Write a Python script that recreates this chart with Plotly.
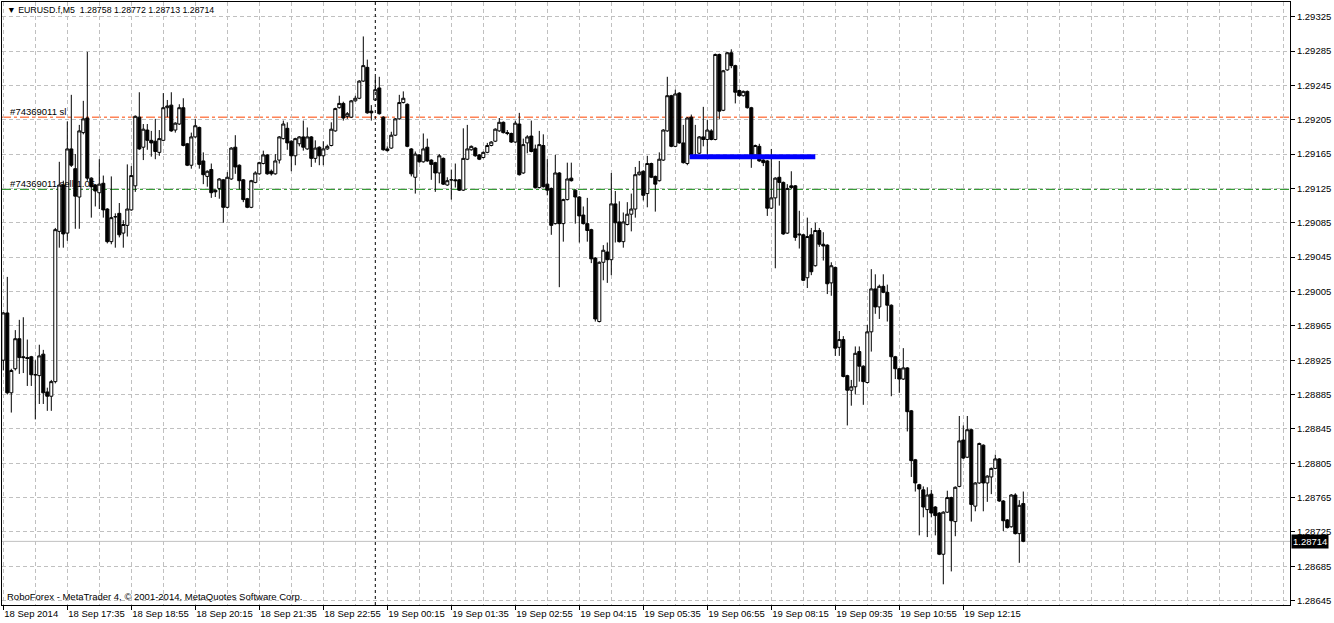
import plotly.graph_objects as go
import pandas as pd

# ---------------- data ----------------
symbol = "EURUSD.f,M5"
start_time = "2014-09-18 16:15"

open_ = [1.28925, 1.28980, 1.28887, 1.28915, 1.28950, 1.28929, 1.28928, 1.28929, 1.28908, 1.28907,
         1.28932, 1.28888, 1.28883, 1.28900, 1.29075, 1.29129, 1.29073, 1.29171, 1.29148, 1.29115,
         1.29190, 1.29207, 1.29137, 1.29129, 1.29120, 1.29131, 1.29101, 1.29063, 1.29092, 1.29096,
         1.29073, 1.29082, 1.29100, 1.29128, 1.29208, 1.29173, 1.29193, 1.29181, 1.29180, 1.29167,
         1.29181, 1.29219, 1.29222, 1.29193, 1.29200, 1.29219, 1.29177, 1.29152, 1.29185, 1.29196,
         1.29157, 1.29139, 1.29147, 1.29123, 1.29125, 1.29135, 1.29103, 1.29136, 1.29173, 1.29152,
         1.29135, 1.29113, 1.29103, 1.29132, 1.29142, 1.29154, 1.29164, 1.29145, 1.29142, 1.29158,
         1.29183, 1.29195, 1.29180, 1.29163, 1.29177, 1.29185, 1.29171, 1.29185, 1.29160, 1.29173,
         1.29163, 1.29171, 1.29175, 1.29192, 1.29219, 1.29224, 1.29209, 1.29208, 1.29227, 1.29230,
         1.29250, 1.29266, 1.29215, 1.29228, 1.29242, 1.29208, 1.29171, 1.29172, 1.29187, 1.29206,
         1.29225, 1.29223, 1.29171, 1.29138, 1.29164, 1.29156, 1.29173, 1.29158, 1.29155, 1.29143,
         1.29160, 1.29129, 1.29135, 1.29135, 1.29135, 1.29123, 1.29159, 1.29170, 1.29172, 1.29164,
         1.29161, 1.29167, 1.29175, 1.29180, 1.29192, 1.29202, 1.29190, 1.29189, 1.29179, 1.29200,
         1.29143, 1.29178, 1.29186, 1.29171, 1.29126, 1.29175, 1.29130, 1.29125, 1.29084, 1.29143,
         1.29084, 1.29112, 1.29137, 1.29123, 1.29115, 1.29094, 1.29084, 1.29077, 1.29044, 1.28970,
         1.29039, 1.29051, 1.29042, 1.29107, 1.29086, 1.29063, 1.29083, 1.29095, 1.29101, 1.29141,
         1.29145, 1.29119, 1.29154, 1.29139, 1.29134, 1.29158, 1.29192, 1.29233, 1.29174, 1.29236,
         1.29178, 1.29154, 1.29208, 1.29164, 1.29166, 1.29185, 1.29182, 1.29192, 1.29182, 1.29281,
         1.29216, 1.29263, 1.29283, 1.29268, 1.29239, 1.29233, 1.29238, 1.29219, 1.29164, 1.29174,
         1.29158, 1.29157, 1.29102, 1.29114, 1.29138, 1.29132, 1.29073, 1.29128, 1.29128, 1.29072,
         1.29071, 1.29021, 1.29071, 1.29035, 1.29076, 1.29060, 1.29059, 1.29015, 1.29033, 1.28940,
         1.28949, 1.28907, 1.28890, 1.28894, 1.28935, 1.28918, 1.28899, 1.28958, 1.29008, 1.28987,
         1.29011, 1.29004, 1.28989, 1.28929, 1.28915, 1.28903, 1.28916, 1.28866, 1.28809, 1.28780,
         1.28774, 1.28751, 1.28769, 1.28754, 1.28747, 1.28699, 1.28748, 1.28765, 1.28737, 1.28778,
         1.28832, 1.28812, 1.28844, 1.28755, 1.28782, 1.28826, 1.28782, 1.28789, 1.28799, 1.28810,
         1.28761, 1.28739, 1.28731, 1.28768, 1.28723, 1.28758]

high = [1.28981, 1.29022, 1.28915, 1.28960, 1.28972, 1.28975, 1.28949, 1.28930, 1.28925, 1.28943,
        1.28937, 1.28893, 1.28902, 1.29079, 1.29156, 1.29134, 1.29203, 1.29234, 1.29165, 1.29199,
        1.29227, 1.29284, 1.29138, 1.29130, 1.29159, 1.29140, 1.29102, 1.29139, 1.29096, 1.29108,
        1.29088, 1.29153, 1.29151, 1.29210, 1.29237, 1.29200, 1.29200, 1.29192, 1.29206, 1.29193,
        1.29236, 1.29228, 1.29237, 1.29202, 1.29223, 1.29230, 1.29178, 1.29190, 1.29206, 1.29197,
        1.29167, 1.29146, 1.29154, 1.29124, 1.29137, 1.29136, 1.29144, 1.29173, 1.29187, 1.29153,
        1.29136, 1.29114, 1.29135, 1.29145, 1.29156, 1.29169, 1.29165, 1.29147, 1.29165, 1.29186,
        1.29204, 1.29202, 1.29181, 1.29184, 1.29186, 1.29204, 1.29196, 1.29186, 1.29181, 1.29174,
        1.29180, 1.29176, 1.29202, 1.29219, 1.29233, 1.29226, 1.29214, 1.29228, 1.29233, 1.29251,
        1.29302, 1.29275, 1.29222, 1.29255, 1.29255, 1.29209, 1.29174, 1.29191, 1.29207, 1.29234,
        1.29238, 1.29224, 1.29172, 1.29168, 1.29165, 1.29189, 1.29183, 1.29159, 1.29156, 1.29165,
        1.29161, 1.29138, 1.29147, 1.29154, 1.29136, 1.29195, 1.29199, 1.29175, 1.29173, 1.29165,
        1.29168, 1.29178, 1.29180, 1.29195, 1.29207, 1.29203, 1.29193, 1.29190, 1.29204, 1.29213,
        1.29183, 1.29187, 1.29204, 1.29176, 1.29192, 1.29188, 1.29159, 1.29126, 1.29164, 1.29144,
        1.29113, 1.29155, 1.29155, 1.29124, 1.29116, 1.29104, 1.29114, 1.29078, 1.29045, 1.29040,
        1.29059, 1.29062, 1.29143, 1.29122, 1.29110, 1.29097, 1.29109, 1.29119, 1.29150, 1.29157,
        1.29146, 1.29163, 1.29155, 1.29140, 1.29167, 1.29194, 1.29255, 1.29234, 1.29240, 1.29237,
        1.29199, 1.29208, 1.29211, 1.29199, 1.29186, 1.29220, 1.29205, 1.29194, 1.29282, 1.29282,
        1.29263, 1.29284, 1.29287, 1.29269, 1.29240, 1.29239, 1.29239, 1.29220, 1.29176, 1.29177,
        1.29159, 1.29158, 1.29171, 1.29138, 1.29157, 1.29133, 1.29130, 1.29145, 1.29129, 1.29099,
        1.29072, 1.29091, 1.29079, 1.29085, 1.29079, 1.29074, 1.29060, 1.29039, 1.29034, 1.28959,
        1.28953, 1.28908, 1.28902, 1.28941, 1.28941, 1.28919, 1.28966, 1.29031, 1.29025, 1.29013,
        1.29025, 1.29013, 1.28990, 1.28930, 1.28916, 1.28939, 1.28917, 1.28867, 1.28810, 1.28781,
        1.28778, 1.28777, 1.28774, 1.28755, 1.28748, 1.28749, 1.28773, 1.28766, 1.28778, 1.28860,
        1.28849, 1.28860, 1.28845, 1.28783, 1.28829, 1.28827, 1.28791, 1.28800, 1.28815, 1.28811,
        1.28762, 1.28740, 1.28769, 1.28770, 1.28762, 1.28772]

low = [1.28913, 1.28885, 1.28864, 1.28913, 1.28909, 1.28910, 1.28895, 1.28895, 1.28856, 1.28874,
       1.28874, 1.28866, 1.28866, 1.28898, 1.29056, 1.29056, 1.29064, 1.29150, 1.29078, 1.29078,
       1.29188, 1.29134, 1.29091, 1.29104, 1.29101, 1.29091, 1.29061, 1.29060, 1.29056, 1.29068,
       1.29056, 1.29069, 1.29099, 1.29121, 1.29170, 1.29158, 1.29170, 1.29162, 1.29159, 1.29163,
       1.29180, 1.29208, 1.29191, 1.29190, 1.29199, 1.29174, 1.29151, 1.29148, 1.29184, 1.29148,
       1.29130, 1.29127, 1.29114, 1.29115, 1.29113, 1.29085, 1.29102, 1.29135, 1.29142, 1.29124,
       1.29109, 1.29102, 1.29102, 1.29131, 1.29141, 1.29153, 1.29141, 1.29140, 1.29141, 1.29154,
       1.29182, 1.29170, 1.29145, 1.29152, 1.29174, 1.29169, 1.29170, 1.29150, 1.29155, 1.29152,
       1.29152, 1.29170, 1.29174, 1.29191, 1.29218, 1.29204, 1.29206, 1.29207, 1.29226, 1.29229,
       1.29249, 1.29212, 1.29204, 1.29227, 1.29211, 1.29169, 1.29168, 1.29171, 1.29186, 1.29205,
       1.29224, 1.29173, 1.29139, 1.29119, 1.29155, 1.29155, 1.29156, 1.29135, 1.29121, 1.29131,
       1.29129, 1.29128, 1.29112, 1.29126, 1.29122, 1.29122, 1.29158, 1.29169, 1.29162, 1.29158,
       1.29160, 1.29166, 1.29174, 1.29179, 1.29191, 1.29189, 1.29187, 1.29178, 1.29178, 1.29140,
       1.29142, 1.29166, 1.29167, 1.29125, 1.29125, 1.29126, 1.29117, 1.29071, 1.29083, 1.29010,
       1.29063, 1.29111, 1.29133, 1.29084, 1.29062, 1.29083, 1.29063, 1.29038, 1.28970, 1.28969,
       1.29018, 1.29015, 1.29024, 1.29062, 1.29062, 1.29056, 1.29082, 1.29075, 1.29091, 1.29140,
       1.29111, 1.29103, 1.29137, 1.29098, 1.29133, 1.29157, 1.29191, 1.29173, 1.29173, 1.29177,
       1.29154, 1.29152, 1.29163, 1.29160, 1.29165, 1.29174, 1.29160, 1.29181, 1.29181, 1.29206,
       1.29215, 1.29262, 1.29265, 1.29224, 1.29232, 1.29232, 1.29218, 1.29149, 1.29163, 1.29156,
       1.29151, 1.29093, 1.29101, 1.29032, 1.29105, 1.29071, 1.29072, 1.29124, 1.29064, 1.29055,
       1.29017, 1.29009, 1.29024, 1.29034, 1.29057, 1.29041, 1.29002, 1.29000, 1.28930, 1.28930,
       1.28905, 1.28849, 1.28872, 1.28885, 1.28900, 1.28873, 1.28898, 1.28935, 1.28979, 1.28973,
       1.29003, 1.28970, 1.28883, 1.28903, 1.28887, 1.28902, 1.28842, 1.28789, 1.28772, 1.28721,
       1.28742, 1.28719, 1.28742, 1.28721, 1.28698, 1.28664, 1.28747, 1.28679, 1.28720, 1.28777,
       1.28810, 1.28811, 1.28737, 1.28749, 1.28781, 1.28749, 1.28760, 1.28769, 1.28798, 1.28760,
       1.28726, 1.28729, 1.28730, 1.28722, 1.28689, 1.28713]

close = [1.28980, 1.28887, 1.28913, 1.28950, 1.28928, 1.28928, 1.28927, 1.28908, 1.28908, 1.28930,
         1.28887, 1.28883, 1.28900, 1.29077, 1.29129, 1.29072, 1.29171, 1.29152, 1.29116, 1.29192,
         1.29206, 1.29137, 1.29127, 1.29122, 1.29130, 1.29100, 1.29063, 1.29091, 1.29092, 1.29071,
         1.29083, 1.29101, 1.29140, 1.29209, 1.29171, 1.29194, 1.29181, 1.29178, 1.29168, 1.29183,
         1.29219, 1.29221, 1.29192, 1.29201, 1.29219, 1.29175, 1.29152, 1.29185, 1.29198, 1.29153,
         1.29141, 1.29145, 1.29120, 1.29121, 1.29136, 1.29103, 1.29138, 1.29172, 1.29150, 1.29134,
         1.29112, 1.29103, 1.29134, 1.29143, 1.29155, 1.29164, 1.29142, 1.29142, 1.29157, 1.29185,
         1.29200, 1.29178, 1.29163, 1.29183, 1.29185, 1.29173, 1.29185, 1.29160, 1.29172, 1.29163,
         1.29171, 1.29174, 1.29194, 1.29218, 1.29224, 1.29207, 1.29212, 1.29227, 1.29230, 1.29250,
         1.29268, 1.29213, 1.29213, 1.29240, 1.29212, 1.29170, 1.29169, 1.29187, 1.29206, 1.29225,
         1.29230, 1.29174, 1.29142, 1.29165, 1.29156, 1.29171, 1.29157, 1.29153, 1.29143, 1.29163,
         1.29130, 1.29134, 1.29135, 1.29134, 1.29123, 1.29160, 1.29171, 1.29174, 1.29163, 1.29159,
         1.29167, 1.29175, 1.29179, 1.29194, 1.29202, 1.29190, 1.29189, 1.29179, 1.29201, 1.29141,
         1.29176, 1.29185, 1.29168, 1.29126, 1.29176, 1.29127, 1.29123, 1.29082, 1.29143, 1.29084,
         1.29112, 1.29136, 1.29134, 1.29115, 1.29093, 1.29084, 1.29076, 1.29043, 1.28973, 1.29039,
         1.29053, 1.29042, 1.29107, 1.29085, 1.29063, 1.29086, 1.29095, 1.29101, 1.29141, 1.29144,
         1.29117, 1.29154, 1.29138, 1.29130, 1.29159, 1.29193, 1.29233, 1.29174, 1.29235, 1.29178,
         1.29155, 1.29207, 1.29164, 1.29162, 1.29185, 1.29182, 1.29193, 1.29182, 1.29281, 1.29215,
         1.29262, 1.29283, 1.29268, 1.29237, 1.29233, 1.29238, 1.29219, 1.29164, 1.29175, 1.29157,
         1.29155, 1.29102, 1.29114, 1.29137, 1.29132, 1.29072, 1.29125, 1.29126, 1.29068, 1.29071,
         1.29018, 1.29069, 1.29028, 1.29076, 1.29060, 1.29058, 1.29014, 1.29035, 1.28939, 1.28949,
         1.28906, 1.28890, 1.28894, 1.28933, 1.28918, 1.28900, 1.28958, 1.29008, 1.28987, 1.29011,
         1.29004, 1.28989, 1.28929, 1.28915, 1.28903, 1.28916, 1.28865, 1.28808, 1.28782, 1.28775,
         1.28754, 1.28768, 1.28747, 1.28744, 1.28699, 1.28748, 1.28765, 1.28738, 1.28777, 1.28831,
         1.28811, 1.28844, 1.28757, 1.28782, 1.28828, 1.28782, 1.28790, 1.28799, 1.28810, 1.28761,
         1.28738, 1.28730, 1.28768, 1.28723, 1.28756, 1.28714]

# time-axis tick labels (every 16 bars = 80 minutes)
tick_bars = [0, 16, 32, 48, 64, 80, 96, 112, 128, 144, 160, 176, 192, 208, 224, 240]
tick_labels = ["18 Sep 2014", "18 Sep 17:35", "18 Sep 18:55", "18 Sep 20:15", "18 Sep 21:35",
               "18 Sep 22:55", "19 Sep 00:15", "19 Sep 01:35", "19 Sep 02:55", "19 Sep 04:15",
               "19 Sep 05:35", "19 Sep 06:55", "19 Sep 08:15", "19 Sep 09:35", "19 Sep 10:55",
               "19 Sep 12:15"]
price_ticks = [1.28645, 1.28685, 1.28725, 1.28765, 1.28805, 1.28845, 1.28885, 1.28925, 1.28965,
               1.29005, 1.29045, 1.29085, 1.29125, 1.29165, 1.29205, 1.29245, 1.29285, 1.29325]

order_ticket = "#74369011"
order_price = 1.29124
order_lots = "1.05"
sl_price = 1.29208
hline_price = 1.29162
hline_bars = [172, 203]
day_separator_bar = 93
footer = "RoboForex - MetaTrader 4, \u00a9 2001-2014, MetaQuotes Software Corp."

# ---------------- figure ----------------
n = len(open_)
x = list(range(n))
times = pd.date_range(start_time, periods=n, freq="5min")
hover = [t.strftime("%d %b %H:%M") for t in times]

FONT = "Liberation Sans"
FS = 9.5
GRID = "#C0C0C0"
GDASH = "4px,3px"

fig = go.Figure()

# order labels (drawn first so that candles cover them)
fig.add_trace(go.Scatter(
    x=[1.7, 1.7], y=[sl_price, order_price], mode="text",
    text=[f"{order_ticket} sl", f"{order_ticket} sell {order_lots}"],
    textposition="top right", textfont=dict(family=FONT, size=FS, color="#000000"),
    hoverinfo="skip", showlegend=False, cliponaxis=False))

fig.add_trace(go.Candlestick(
    x=x, open=open_, high=high, low=low, close=close, text=hover,
    increasing=dict(line=dict(color="black", width=1), fillcolor="white"),
    decreasing=dict(line=dict(color="black", width=1), fillcolor="black"),
    whiskerwidth=0, showlegend=False))

# horizontal blue line object
fig.add_trace(go.Scatter(
    x=[hline_bars[0] - 0.4, hline_bars[1]], y=[hline_price, hline_price], mode="lines",
    line=dict(color="#0000FF", width=5), hoverinfo="skip", showlegend=False))

shapes = [
    dict(type="line", xref="paper", x0=0, x1=1, yref="y", y0=sl_price, y1=sl_price,
         line=dict(color="#FF4500", width=1, dash="dashdot"), layer="between"),
    dict(type="line", xref="paper", x0=0, x1=1, yref="y", y0=order_price, y1=order_price,
         line=dict(color="#008000", width=1, dash="dashdot"), layer="between"),
    dict(type="line", xref="paper", x0=0, x1=1, yref="y", y0=close[-1], y1=close[-1],
         line=dict(color="#C0C0C0", width=1), layer="between"),
    dict(type="line", xref="x", x0=day_separator_bar, x1=day_separator_bar, yref="paper", y0=0, y1=1,
         line=dict(color="black", width=1, dash="dot"), layer="above"),
]

header = (f"\u25BC {symbol}  {open_[-1]:.5f} {high[-1]:.5f} {low[-1]:.5f} {close[-1]:.5f}")
annotations = [
    dict(xref="paper", yref="paper", x=0, y=1, xanchor="left", yanchor="top", xshift=3, yshift=-1,
         text=header, showarrow=False, font=dict(family=FONT, size=8.8, color="black")),
    dict(xref="paper", yref="paper", x=0, y=0, xanchor="left", yanchor="bottom", xshift=3, yshift=1,
         text=footer, showarrow=False, font=dict(family=FONT, size=FS, color="black")),
    dict(xref="paper", yref="y", x=1, y=close[-1], xanchor="left", yanchor="middle", xshift=1,
         text=f"{close[-1]:.5f}", showarrow=False, bgcolor="black", borderpad=1,
         font=dict(family=FONT, size=FS, color="white")),
]

fig.update_layout(
    width=1334, height=623,
    margin=dict(l=2, r=44, t=2, b=18, autoexpand=False),
    paper_bgcolor="white", plot_bgcolor="white",
    boxgap=0.2, boxgroupgap=0.05,
    shapes=shapes, annotations=annotations, showlegend=False,
    font=dict(family=FONT, size=FS, color="black"),
    xaxis=dict(
        range=[-0.325, 321.675], rangeslider=dict(visible=False), automargin=False,
        tickvals=tick_bars, ticktext=tick_labels, ticks="outside", ticklen=4, tickangle=0,
        tickcolor="black", ticklabelposition="outside right",
        showline=True, linecolor="black", linewidth=1, mirror=True,
        showgrid=True, gridcolor=GRID, griddash=GDASH, gridwidth=1, zeroline=False,
        minor=dict(tickvals=list(range(0, 328, 8)), showgrid=True, gridcolor=GRID,
                   griddash=GDASH, gridwidth=1, ticks=""),
        tickfont=dict(family=FONT, size=FS, color="black")),
    yaxis=dict(
        side="right", range=[1.286399, 1.293421], automargin=False,
        tickvals=price_ticks, ticktext=[f"{p:.5f}" for p in price_ticks],
        ticks="outside", ticklen=4, tickcolor="black",
        showline=True, linecolor="black", linewidth=1, mirror=True,
        showgrid=True, gridcolor=GRID, griddash=GDASH, gridwidth=1, zeroline=False,
        tickfont=dict(family=FONT, size=FS, color="black")),
)

fig.write_html("out.html", config={"displayModeBar": False},
               post_script="document.body.style.margin='0';document.body.style.overflow='hidden';")
